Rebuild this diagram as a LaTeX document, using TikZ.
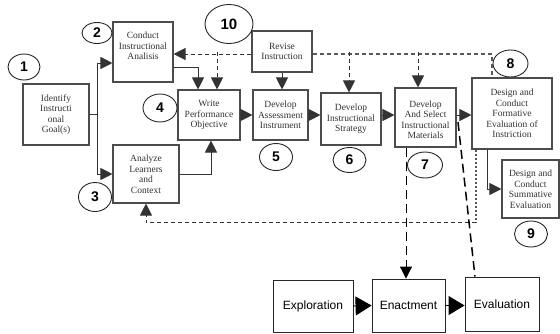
\documentclass[tikz,border=0pt]{standalone}
\usepackage{fontspec}
\setmainfont{Liberation Serif}
\newfontfamily\numfont{Liberation Sans}
\usetikzlibrary{arrows.meta,shapes.geometric,calc}
\begin{document}
\begin{tikzpicture}[x=1pt,y=-1pt,
  box/.style={draw=black!70, line width=1.1pt, fill=white, align=center,
    font=\fontsize{9.5}{10.5}\selectfont, text=black!80, inner sep=1pt},
  txt/.style={align=center, font=\fontsize{9.5}{10.5}\selectfont, text=black!80, inner sep=0pt},
  num/.style={draw=black!85, line width=0.9pt, ellipse, inner sep=0pt,
    font=\numfont\bfseries\fontsize{14}{14}\selectfont},
  sbox/.style={draw=black!85, line width=0.9pt, fill=white,
    font=\numfont\fontsize{12}{12}\selectfont},
  arr/.style={-{Triangle[length=12pt,width=12pt]}, line width=1pt, draw=black!80},
  bigarr/.style={-{Triangle[length=16pt,width=19pt]}, line width=1pt, draw=black},
  dsh/.style={dash pattern=on 4pt off 3pt, draw=black!65, line width=1.1pt},
  dot/.style={dash pattern=on 2pt off 2pt, draw=black!65, line width=1.1pt},
  ldsh/.style={dash pattern=on 9pt off 5pt, line width=1.5pt, draw=black}]
\useasboundingbox (0,0) rectangle (560,333);

% boxes
\node[box, minimum width=66pt, minimum height=61pt] (b1) at (56,114.5) {Identify\\Instructi\\onal\\Goal(s)};
\node[box, minimum width=60pt, minimum height=60pt] (b2) at (143,52) {};
\node[txt] at ([yshift=6pt]b2.center) {Conduct\\Instructional\\Analisis};
\node[box, minimum width=66pt, minimum height=58pt] (b3) at (146,174) {Analyze\\Learners\\and\\Context};
\node[box, minimum width=62pt, minimum height=50pt] (b4) at (209,115) {Write\\Performance\\Objective};
\node[box, minimum width=55pt, minimum height=50pt] (b5) at (280.5,115) {Develop\\Assessment\\Instrument};
\node[box, minimum width=60pt, minimum height=41pt] (b10) at (282,51.5) {Revise\\Instruction};
\node[box, minimum width=60pt, minimum height=52pt] (b6) at (351,119) {Develop\\Instructional\\Strategy};
\node[box, minimum width=61pt, minimum height=59pt] (b7) at (425.5,117.5) {};
\node[txt] at ([yshift=-2pt]b7.center) {Develop\\And Select\\Instructional\\Materials};
\node[box, minimum width=80pt, minimum height=71pt] (b8) at (512,113.5) {Design and\\Conduct\\Formative\\Evaluation of\\Instriction};
\node[box, minimum width=57pt, minimum height=58pt] (b9) at (530.5,189) {Design and\\Conduct\\Summative\\Evaluation};

\node[sbox, minimum width=80pt, minimum height=52pt] (expl) at (313,306) {Exploration};
\node[sbox, minimum width=73pt, minimum height=53pt] (enact) at (408.5,305.5) {Enactment};
\node[sbox, minimum width=74pt, minimum height=54pt] (eval) at (502,304) {Evaluation};

% numbers
\node[num, minimum width=32pt, minimum height=26pt] (c1) at (24,67) {1};
\node[num, minimum width=30pt, minimum height=21pt] (c2) at (97,33) {2};
\node[num, minimum width=33pt, minimum height=29pt] (c3) at (95,197) {3};
\node[num, minimum width=34pt, minimum height=28pt] (c4) at (160,108) {4};
\node[num, minimum width=33pt, minimum height=27pt] (c5) at (276,157) {5};
\node[num, minimum width=33pt, minimum height=25pt] (c6) at (349.5,160) {6};
\node[num, minimum width=35pt, minimum height=26pt] (c7) at (425,165) {7};
\node[num, minimum width=35pt, minimum height=27pt] (c8) at (510.5,63.5) {8};
\node[num, minimum width=33pt, minimum height=26pt] (c9) at (531,234) {9};
\node[num, minimum width=48pt, minimum height=39pt, font=\numfont\bfseries\fontsize{15}{15}\selectfont] (c10) at (229,24) {10};

% connectors from goal
\coordinate (j) at (97,114.5);
\draw[line width=1pt, draw=black!80] (b1.east) -- (j);
\draw[arr] (j) |- ([yshift=-11pt]b2.west);
\draw[arr] (j) |- (b3.west);
\draw[arr] ([yshift=-15pt]b2.east) -| ([xshift=-11pt]b4.north);
\draw[arr] (b3.east) -| ([xshift=2pt]b4.south);

% main chain
\draw[arr] (b4.east) -- (b5.west);
\draw[arr] (b5.east) -- (b5.east -| b6.west);
\draw[arr] (b6.east |- b5.east) -- (b7.west |- b5.east);
\draw[arr] (b7.east |- b5.east) -- (b8.west |- b5.east);
\draw[arr] ([xshift=-25pt]b8.south) |- (b9.west);
\draw[arr] (b10.south) -- (b10.south |- b5.north);

% revision feedback (dashed)
\draw[dsh, arr] ([yshift=-2.5pt]b10.west) -- ([yshift=-2.5pt]b10.west -| b2.east);
\draw[dsh, arr] ([xshift=8pt]b4.north |- b10.west) -- ([xshift=8pt]b4.north);
\draw[dsh] ([yshift=-2.5pt]b10.east) -| ([xshift=-20pt]b8.north);
\draw[dsh, arr] ([xshift=-2pt]b6.north |- b10.east) -- ([xshift=-2pt]b6.north);
\draw[dsh, arr] ([xshift=-7.5pt]b7.north |- b10.east) -- ([xshift=-7.5pt]b7.north);
\draw[dot] ([xshift=-36pt]b8.south) -- ++(0,73) coordinate (fb);
\draw[dsh, arr] (fb) -| (b3.south);

% links to lower boxes
\draw[ldsh, arr, draw=black] ([xshift=-19.5pt]b7.south) -- ([xshift=-19.5pt]b7.south |- enact.north);
\coordinate (d1) at (458,122);
\draw[ldsh] (d1) -- ([xshift=-27pt]eval.north);

\draw[bigarr] (expl.east) -- (enact.west);
\draw[bigarr] (enact.east) -- (enact.east -| eval.west);
\end{tikzpicture}
\end{document}
